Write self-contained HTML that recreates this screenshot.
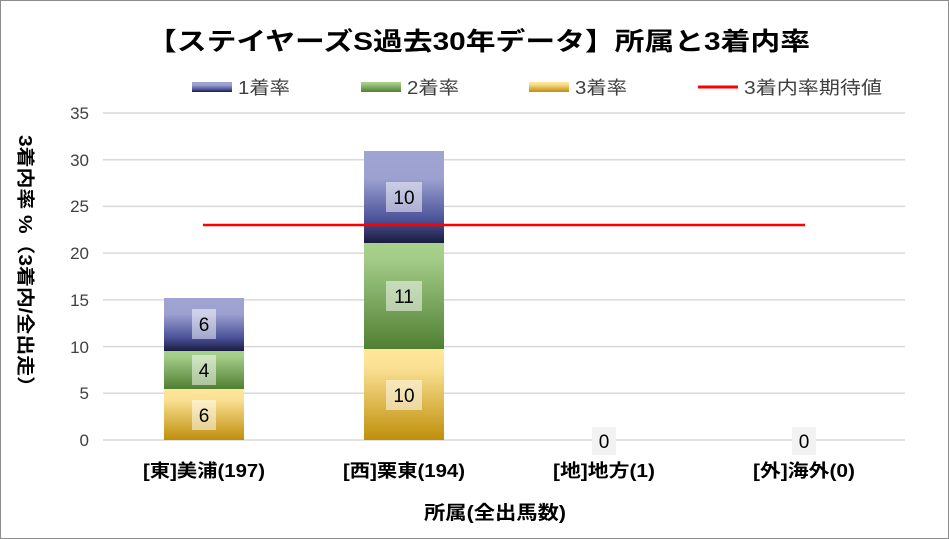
<!DOCTYPE html>
<html><head><meta charset="utf-8"><style>
html,body{margin:0;padding:0;background:#fff}
svg{display:block;font-family:"Liberation Sans","Noto Sans CJK JP",sans-serif}
</style></head><body>
<svg width="949" height="539" viewBox="0 0 949 539">
<defs>
<linearGradient id="g1" x1="0" y1="0" x2="0" y2="1">
<stop offset="0" stop-color="#a0a4d2"/><stop offset="0.3" stop-color="#9ca1d0"/><stop offset="0.75" stop-color="#4a5198"/><stop offset="1" stop-color="#1a1c3e"/></linearGradient>
<linearGradient id="g2" x1="0" y1="0" x2="0" y2="1">
<stop offset="0" stop-color="#a9d18e"/><stop offset="0.15" stop-color="#a3cc88"/><stop offset="1" stop-color="#507f32"/></linearGradient>
<linearGradient id="g3" x1="0" y1="0" x2="0" y2="1">
<stop offset="0" stop-color="#ffe699"/><stop offset="0.2" stop-color="#fbe194"/><stop offset="1" stop-color="#bf8f0a"/></linearGradient>
</defs>
<rect x="0.5" y="0.5" width="948" height="538" fill="#fff" stroke="#8c8c8c"/>
<text x="147" y="50" font-size="25" font-weight="bold" fill="#000" textLength="663" lengthAdjust="spacingAndGlyphs">【ステイヤーズS過去30年データ】所属と3着内率</text>
<!-- legend -->
<rect x="192" y="82" width="40" height="10" fill="url(#g1)"/><text x="238" y="94" font-size="18" fill="#404040" textLength="52" lengthAdjust="spacingAndGlyphs">1着率</text>
<rect x="361" y="82" width="40" height="10" fill="url(#g2)"/><text x="407" y="94" font-size="18" fill="#404040" textLength="52" lengthAdjust="spacingAndGlyphs">2着率</text>
<rect x="529" y="82" width="40" height="10" fill="url(#g3)"/><text x="575" y="94" font-size="18" fill="#404040" textLength="52" lengthAdjust="spacingAndGlyphs">3着率</text>
<line x1="698" y1="87" x2="738" y2="87" stroke="#f00" stroke-width="3"/><text x="744" y="94" font-size="18" fill="#404040" textLength="138" lengthAdjust="spacingAndGlyphs">3着内率期待値</text>
<!-- grid -->
<g stroke="#d9d9d9" stroke-width="1.5">
<line x1="103" y1="113" x2="905" y2="113"/><line x1="103" y1="159.7" x2="905" y2="159.7"/>
<line x1="103" y1="206.4" x2="905" y2="206.4"/><line x1="103" y1="253.1" x2="905" y2="253.1"/>
<line x1="103" y1="299.9" x2="905" y2="299.9"/><line x1="103" y1="346.6" x2="905" y2="346.6"/>
<line x1="103" y1="393.3" x2="905" y2="393.3"/><line x1="103" y1="440" x2="905" y2="440"/>
</g>
<g font-size="17" fill="#404040" text-anchor="end">
<text x="89" y="119">35</text><text x="89" y="166">30</text><text x="89" y="212">25</text><text x="89" y="259">20</text>
<text x="89" y="306">15</text><text x="89" y="353">10</text><text x="89" y="399">5</text><text x="89" y="446">0</text>
</g>
<!-- bars -->
<rect x="164" y="298" width="80" height="53" fill="url(#g1)"/>
<rect x="164" y="351" width="80" height="38" fill="url(#g2)"/>
<rect x="164" y="389" width="80" height="51" fill="url(#g3)"/>
<rect x="364" y="151" width="80" height="92" fill="url(#g1)"/>
<rect x="364" y="243" width="80" height="106" fill="url(#g2)"/>
<rect x="364" y="349" width="80" height="91" fill="url(#g3)"/>
<line x1="203" y1="225" x2="805" y2="225" stroke="#f00" stroke-width="2.5"/>
<!-- labels -->
<g fill="#fff" fill-opacity="0.5">
<rect x="192" y="309" width="24" height="30"/><rect x="192" y="355" width="24" height="30"/><rect x="192" y="400" width="24" height="30"/>
<rect x="386" y="182" width="36" height="30"/><rect x="386" y="281" width="36" height="30"/><rect x="386" y="380" width="36" height="30"/>
</g>
<rect x="592" y="427" width="24" height="28" fill="#f2f2f2"/>
<rect x="792" y="427" width="24" height="28" fill="#f2f2f2"/>
<g font-size="19" fill="#000" text-anchor="middle">
<text x="204" y="331">6</text><text x="204" y="377">4</text><text x="204" y="422">6</text>
<text x="404" y="204">10</text><text x="404" y="303">11</text><text x="404" y="402">10</text>
<text x="604" y="448">0</text><text x="804" y="448">0</text>
</g>
<!-- x labels -->
<g font-size="18" font-weight="bold" fill="#000">
<text x="143" y="477" textLength="122" lengthAdjust="spacingAndGlyphs">[東]美浦(197)</text>
<text x="343" y="477" textLength="122" lengthAdjust="spacingAndGlyphs">[西]栗東(194)</text>
<text x="553" y="477" textLength="102" lengthAdjust="spacingAndGlyphs">[地]地方(1)</text>
<text x="753" y="477" textLength="102" lengthAdjust="spacingAndGlyphs">[外]海外(0)</text>
</g>
<text x="424" y="519" font-size="19" font-weight="bold" fill="#000" textLength="142" lengthAdjust="spacingAndGlyphs">所属(全出馬数)</text>
<text transform="translate(19,135) rotate(90)" font-size="18" font-weight="bold" fill="#000" textLength="262" lengthAdjust="spacingAndGlyphs">3着内率 %（3着内/全出走）</text>
</svg>
</body></html>
